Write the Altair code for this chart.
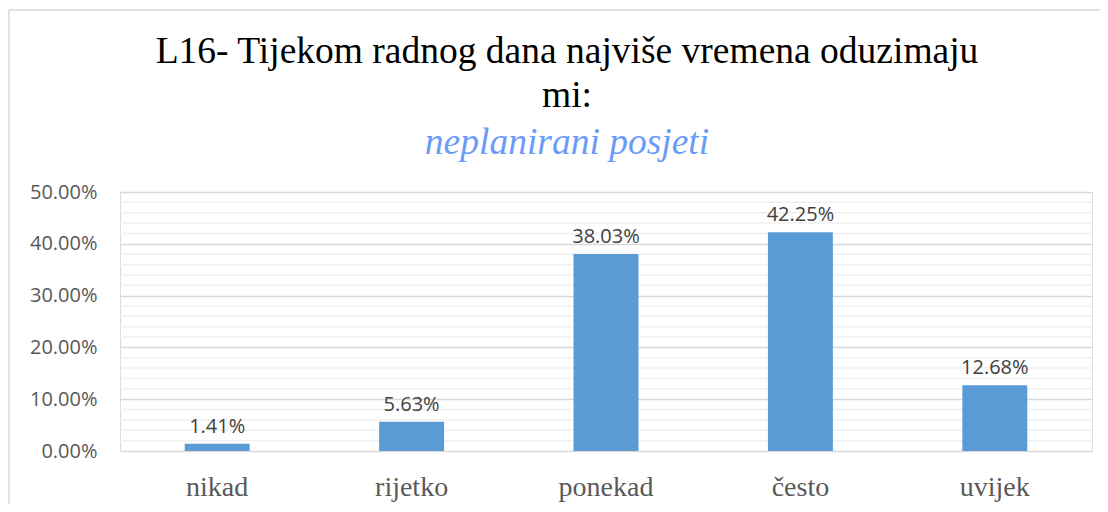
import altair as alt
import pandas as pd

categories = ["nikad", "rijetko", "ponekad", "često", "uvijek"]
values = [0.0141, 0.0563, 0.3803, 0.4225, 0.1268]
major_ticks = [0.0, 0.1, 0.2, 0.3, 0.4, 0.5]
minor_ticks = [0.02, 0.04, 0.06, 0.08, 0.12, 0.14, 0.16, 0.18,
               0.22, 0.24, 0.26, 0.28, 0.32, 0.34, 0.36, 0.38,
               0.42, 0.44, 0.46, 0.48]

title_lines = ["L16- Tijekom radnog dana najviše vremena oduzimaju", "mi:"]
subtitle_text = "neplanirani posjeti"

df = pd.DataFrame({"cat": categories, "val": values})
minor_df = pd.DataFrame({"v": minor_ticks})

yscale = alt.Scale(domain=[0, 0.5], nice=False)
xscale = alt.Scale(paddingInner=0.666, paddingOuter=0.333)

minor = alt.Chart(minor_df).mark_rule(color="#f0f0f0", strokeWidth=1.5).encode(
    y=alt.Y("v:Q", scale=yscale)
)

bars = alt.Chart(df).mark_bar(color="#5B9BD5").encode(
    x=alt.X("cat:N", sort=categories, scale=xscale,
            axis=alt.Axis(title=None, labelAngle=0, ticks=False, domain=False,
                          labelFont="Liberation Serif", labelFontSize=28,
                          labelColor="#595959", labelPadding=22)),
    y=alt.Y("val:Q", scale=yscale,
            axis=alt.Axis(title=None, values=major_ticks, format=".2%",
                          ticks=False, tickSize=0, domain=False, grid=True,
                          gridColor="#d9d9d9", gridWidth=1.5,
                          labelFont="Open Sans", labelFontSize=20,
                          labelColor="#595959", labelPadding=23)),
)

labels = alt.Chart(df).mark_text(
    dy=-17, font="Open Sans", fontSize=20, color="#404040"
).encode(
    x=alt.X("cat:N", sort=categories, scale=xscale),
    y=alt.Y("val:Q", scale=yscale),
    text=alt.Text("val:Q", format=".2%"),
)

one = alt.Data(values=[{"k": 1}])
border_top = alt.Chart(one).mark_rule(color="#d9d9d9", strokeWidth=1.5).encode(
    x=alt.value(-111), x2=alt.value(1000), y=alt.value(-182)
)
border_left = alt.Chart(one).mark_rule(color="#d9d9d9", strokeWidth=1.5).encode(
    x=alt.value(-111), y=alt.value(-182), y2=alt.value(320)
)

chart = alt.layer(minor, bars, labels, border_top, border_left).properties(
    width=972,
    height=259,
    padding={"left": 112, "top": 184, "right": 8, "bottom": 53},
    autosize="none",
    title=alt.TitleParams(
        text=title_lines,
        subtitle=subtitle_text,
        font="Liberation Serif", fontSize=37.5, fontWeight="normal", color="black",
        lineHeight=44,
        subtitleFont="Liberation Serif", subtitleFontSize=37.5,
        subtitleFontStyle="italic", subtitleColor="#6B9BF8",
        subtitleLineHeight=37, subtitlePadding=9,
        anchor="middle", dx=-39, offset=-152,
    ),
).configure_view(strokeWidth=0).configure(background="white")

chart.save("out.html", embed_options={"renderer": "svg", "actions": False})
